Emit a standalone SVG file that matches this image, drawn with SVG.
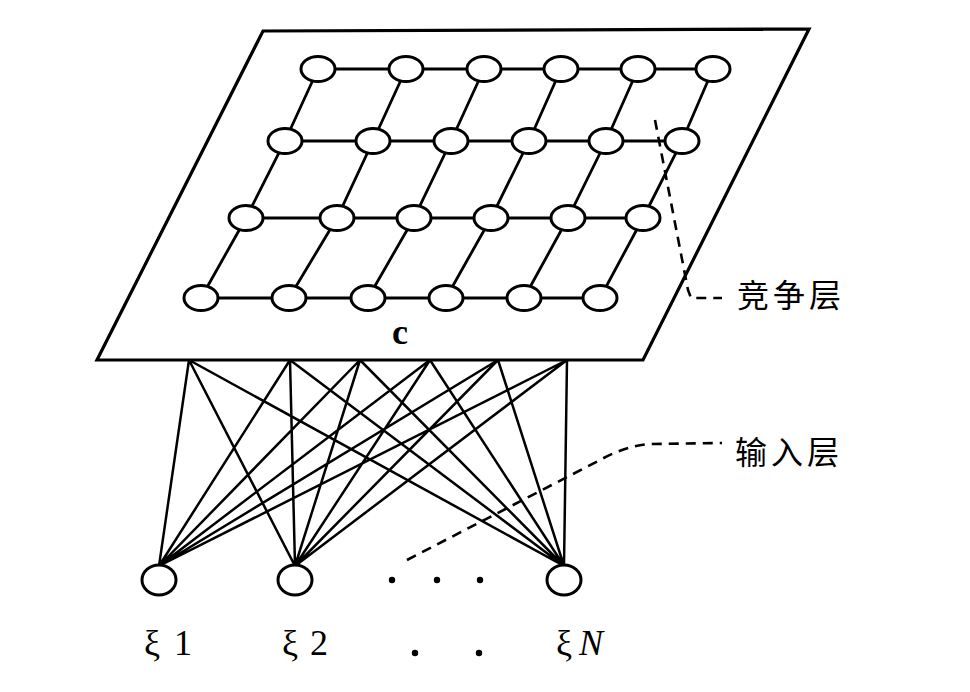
<svg xmlns="http://www.w3.org/2000/svg" width="970" height="692" viewBox="0 0 970 692">
<defs>
<style>
.bg{fill:#fff}
.plane{fill:#fff;stroke:#000;stroke-width:3.2;stroke-linejoin:miter}
.e{stroke:#000;stroke-width:2.8;fill:none;stroke-linecap:round}
.w{stroke:#000;stroke-width:2.5;fill:none}
.n{fill:#fff;stroke:#000;stroke-width:3}
.d{stroke:#000;stroke-width:2.6;fill:none;stroke-dasharray:10 7}
.cjk{font-family:"Noto Sans CJK SC","Noto Sans CJK JP",sans-serif;font-size:32px;fill:#000;letter-spacing:4px}
.ser{font-family:"Liberation Serif","DejaVu Serif",serif;font-size:36px;fill:#000}
</style>
</defs>
<rect class="bg" x="0" y="0" width="970" height="692"/>
<g id="competition-plane">
<polygon class="plane" points="263,31 809,29 643,360 97,360"/>
<text class="ser" x="400" y="344" text-anchor="middle" font-weight="bold" font-size="29">c</text>
</g>
<g id="connectors">
<path class="e" d="M318,69H713 M285,141H682 M246,218H643 M201,298H600"/>
<path class="e" d="M318,69L285,141L246,218L201,298 M406,69L373,141L337,218L289,298 M484,69L451,141L414,218L368,298 M561,69L529,141L491,218L446,298 M638,69L606,141L568,218L524,298 M713,69L682,141L643,218L600,298"/>
<path class="w" d="M189,360L159,566 M290,360L159,566 M360,360L159,566 M430,360L159,566 M498,360L159,566 M567,360L159,566
M189,360L295,566 M290,360L295,566 M360,360L295,566 M430,360L295,566 M498,360L295,566 M567,360L295,566
M189,360L564,566 M290,360L564,566 M360,360L564,566 M430,360L564,566 M498,360L564,566 M567,360L564,566"/>
<path class="d" d="M655,120L688,290L691,298L722,298"/>
<path class="d" d="M407,560L600,460Q625,446 650,444L722,443"/>
</g>
<g id="grid-nodes">
<ellipse class="n" cx="318" cy="69" rx="17" ry="12.5"/><ellipse class="n" cx="406" cy="69" rx="17" ry="12.5"/><ellipse class="n" cx="484" cy="69" rx="17" ry="12.5"/><ellipse class="n" cx="561" cy="69" rx="17" ry="12.5"/><ellipse class="n" cx="638" cy="69" rx="17" ry="12.5"/><ellipse class="n" cx="713" cy="69" rx="17" ry="12.5"/>
<ellipse class="n" cx="285" cy="141" rx="17" ry="12.5"/><ellipse class="n" cx="373" cy="141" rx="17" ry="12.5"/><ellipse class="n" cx="451" cy="141" rx="17" ry="12.5"/><ellipse class="n" cx="529" cy="141" rx="17" ry="12.5"/><ellipse class="n" cx="606" cy="141" rx="17" ry="12.5"/><ellipse class="n" cx="682" cy="141" rx="17" ry="12.5"/>
<ellipse class="n" cx="246" cy="218" rx="17" ry="12.5"/><ellipse class="n" cx="337" cy="218" rx="17" ry="12.5"/><ellipse class="n" cx="414" cy="218" rx="17" ry="12.5"/><ellipse class="n" cx="491" cy="218" rx="17" ry="12.5"/><ellipse class="n" cx="568" cy="218" rx="17" ry="12.5"/><ellipse class="n" cx="643" cy="218" rx="17" ry="12.5"/>
<ellipse class="n" cx="201" cy="298" rx="17" ry="12.5"/><ellipse class="n" cx="289" cy="298" rx="17" ry="12.5"/><ellipse class="n" cx="368" cy="298" rx="17" ry="12.5"/><ellipse class="n" cx="446" cy="298" rx="17" ry="12.5"/><ellipse class="n" cx="524" cy="298" rx="17" ry="12.5"/><ellipse class="n" cx="600" cy="298" rx="17" ry="12.5"/>
</g>
<g id="input-1">
<ellipse class="n" cx="159" cy="580" rx="17" ry="15"/>
<text class="ser" y="655"><tspan x="144">ξ</tspan><tspan x="174">1</tspan></text>
</g>
<g id="input-2">
<ellipse class="n" cx="295" cy="580" rx="17" ry="15"/>
<text class="ser" y="655"><tspan x="282">ξ</tspan><tspan x="310">2</tspan></text>
</g>
<g id="input-ellipsis">
<circle cx="392" cy="580" r="3.2" fill="#000"/><circle cx="437" cy="580" r="3.2" fill="#000"/><circle cx="480" cy="580" r="3.2" fill="#000"/>
<circle cx="415" cy="653" r="3.2" fill="#000"/><circle cx="479" cy="653" r="3.2" fill="#000"/>
</g>
<g id="input-N">
<ellipse class="n" cx="564" cy="580" rx="17" ry="15"/>
<text class="ser" y="655"><tspan x="556">ξ</tspan><tspan x="579" font-style="italic">N</tspan></text>
</g>
<g id="label-competition">
<text class="cjk" x="737" y="307">竞争层</text>
</g>
<g id="label-input">
<text class="cjk" x="735" y="464">输入层</text>
</g>
</svg>
